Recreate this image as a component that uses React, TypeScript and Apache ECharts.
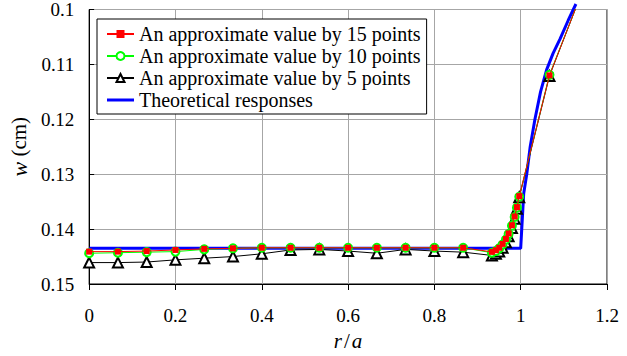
import React, { useEffect, useRef } from "react";
import * as echarts from "echarts";

const xs = [0, 0.0667, 0.1333, 0.2, 0.2667, 0.3333, 0.4, 0.4667, 0.5333, 0.6, 0.6667, 0.7333, 0.8, 0.8667, 0.9333, 0.9426, 0.9503, 0.958, 0.9658, 0.972, 0.9797, 0.986, 0.9913, 0.9967, 1.0667, 1.1333];
const w15 = [0.1441, 0.1441, 0.144, 0.1438, 0.1436, 0.1435, 0.1434, 0.1434, 0.1434, 0.1434, 0.1434, 0.1434, 0.1434, 0.1434, 0.14415, 0.14385, 0.1434, 0.1427, 0.1418, 0.1408, 0.1393, 0.1377, 0.136, 0.134, 0.112, 0.0986];
const w10 = [0.1444, 0.1443, 0.1442, 0.1441, 0.1437, 0.1435, 0.1434, 0.1434, 0.1434, 0.1434, 0.1434, 0.1434, 0.1434, 0.1434, 0.1443, 0.144, 0.1435, 0.1428, 0.1419, 0.1409, 0.1394, 0.1378, 0.1361, 0.1341, 0.1119, 0.0986];
const w5 = [0.1461, 0.1461, 0.146, 0.1456, 0.1453, 0.145, 0.1445, 0.1438, 0.1437, 0.144, 0.1444, 0.1437, 0.144, 0.1442, 0.1448, 0.1445, 0.1441, 0.1434, 0.1424, 0.1413, 0.1398, 0.1381, 0.1363, 0.1342, 0.1121, 0.0986];
const thX = [0, 1.0, 1.007, 1.014, 1.022, 1.033, 1.046, 1.06, 1.075, 1.091, 1.11, 1.128];
const thY = [0.1435, 0.1435, 0.1335, 0.13, 0.125, 0.12, 0.115, 0.111, 0.108, 0.1054, 0.102, 0.099];
const xTicks = ["0", "0.2", "0.4", "0.6", "0.8", "1", "1.2"];
const names = [
  "An approximate value by 15 points",
  "An approximate value by 10 points",
  "An approximate value by 5 points",
  "Theoretical responses",
];

const FONT = "Times New Roman";

function pairs(x: number[], y: number[]) {
  return x.map((v, i) => [v, y[i]]);
}

export default function App() {
  const ref = useRef<HTMLDivElement>(null);
  useEffect(() => {
    if (!ref.current) return;
    const chart = echarts.init(ref.current, null, { renderer: "svg" });
    chart.setOption({
      animation: false,
      backgroundColor: "#fff",
      textStyle: { fontFamily: FONT },
      grid: {
        left: 89,
        right: 20,
        top: 9,
        bottom: 60,
        show: true,
        borderColor: "#000",
        borderWidth: 1,
      },
      legend: {
        orient: "vertical",
        left: 97,
        top: 19,
        data: [
          names[0],
          names[1],
          names[2],
          { name: names[3], icon: "path://M0,0 M0,3.5 L27,3.5 L27,6.5 L0,6.5 Z M27,10" },
        ],
        backgroundColor: "#fff",
        borderColor: "#000",
        borderWidth: 1,
        borderRadius: 0,
        padding: [4, 6, 3, 9],
        itemGap: 0,
        itemWidth: 27,
        itemHeight: 10,
        textStyle: { fontFamily: FONT, fontSize: 20, color: "#000", lineHeight: 22 },
      },
      xAxis: {
        type: "value",
        min: 0,
        max: 1.2,
        interval: 0.2,
        name: "{i|r}{n|/}{i|a}",
        nameLocation: "middle",
        nameGap: 46,
        nameTextStyle: {
          fontFamily: FONT,
          rich: {
            i: { fontFamily: FONT, fontSize: 21, fontStyle: "italic", color: "#000" },
            n: { fontFamily: FONT, fontSize: 21, color: "#000", padding: [0, 2, 0, 2] },
          },
        },
        axisLine: { lineStyle: { color: "#000", width: 1 } },
        axisTick: { show: true, inside: false, length: 6, lineStyle: { color: "#000" } },
        axisLabel: {
          fontFamily: FONT,
          fontSize: 19,
          color: "#000",
          margin: 22,
          formatter: (v: number) => xTicks[Math.round(v / 0.2)] ?? String(v),
        },
        splitLine: { show: true, lineStyle: { color: "#a6a6a6", width: 1 } },
      },
      yAxis: {
        type: "value",
        inverse: true,
        min: 0.1,
        max: 0.15,
        interval: 0.01,
        name: "{i|w} (cm)",
        nameLocation: "middle",
        nameGap: 54,
        nameRotate: 90,
        nameTextStyle: {
          rich: {
            i: { fontFamily: FONT, fontSize: 22, fontStyle: "italic", color: "#000" },
          },
          fontFamily: FONT,
          fontSize: 21,
          color: "#000",
        },
        axisLine: { lineStyle: { color: "#000", width: 1 } },
        axisTick: { show: true, inside: true, length: 5, lineStyle: { color: "#000" } },
        axisLabel: {
          fontFamily: FONT,
          fontSize: 19,
          color: "#000",
          margin: 15,
          formatter: (v: number) => String(+v.toFixed(2)),
        },
        splitLine: { show: true, lineStyle: { color: "#a6a6a6", width: 1 } },
      },
      series: [
        {
          name: names[0],
          type: "line",
          z: 5,
          clip: true,
          data: pairs(xs, w15),
          symbol: "rect",
          symbolSize: 6,
          lineStyle: { color: "#ff0000", width: 1 },
          itemStyle: { color: "#ff0000" },
        },
        {
          name: names[1],
          type: "line",
          z: 4,
          clip: true,
          data: pairs(xs, w10),
          symbol: "emptyCircle",
          symbolSize: 8,
          lineStyle: { color: "#00ff00", width: 1 },
          itemStyle: { color: "#00ff00", borderColor: "#00ff00", borderWidth: 1 },
        },
        {
          name: names[2],
          type: "line",
          z: 3,
          clip: true,
          data: pairs(xs, w5),
          symbol: "emptyTriangle",
          symbolSize: 10,
          lineStyle: { color: "#000", width: 1 },
          itemStyle: { color: "#000", borderColor: "#000", borderWidth: 1 },
        },
        {
          name: names[3],
          type: "line",
          z: 2,
          clip: false,
          data: pairs(thX, thY),
          symbol: "none",
          showSymbol: false,
          lineStyle: { color: "#0000ff", width: 3 },
          itemStyle: { color: "#0000ff" },
        },
      ],
    });
    return () => chart.dispose();
  }, []);
  return (
    <div>
      <style>{`.chart-root svg text { font-family: "Liberation Serif", "Times New Roman", serif !important; }`}</style>
      <div
        ref={ref}
        className="chart-root"
        style={{ position: "absolute", left: 0, top: 0, width: 627, height: 356 }}
      />
    </div>
  );
}
